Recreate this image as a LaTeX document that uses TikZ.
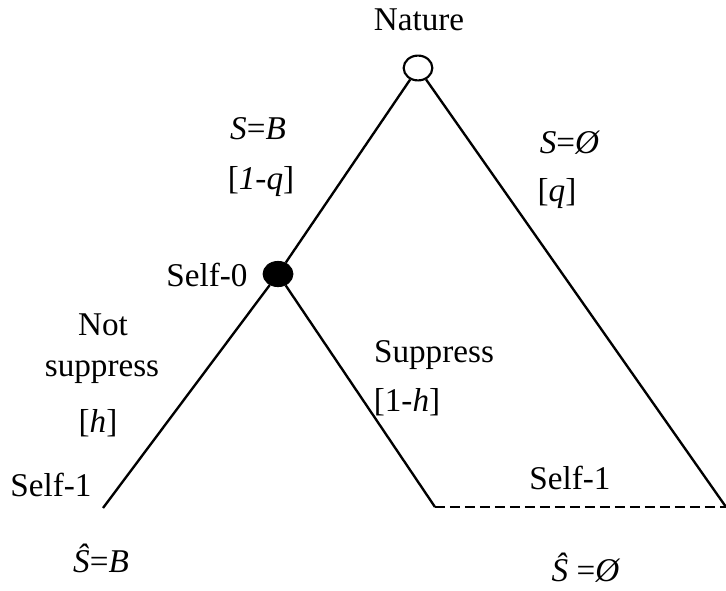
\documentclass[tikz,border=0pt]{standalone}
\usepackage{fontspec}
\setmainfont{Liberation Serif}
\usetikzlibrary{positioning,shapes.geometric}

\begin{document}
\begin{tikzpicture}[x=0.467pt,y=-0.467pt,
    branch/.style={line width=1.1pt},
    lbl/.style={font=\fontsize{15.5}{18}\selectfont,inner sep=1pt},
    chance/.style={ellipse,draw,line width=1pt,fill=white,minimum width=13.4pt,minimum height=11.6pt,inner sep=0pt},
    player/.style={ellipse,draw,fill=black,minimum width=14pt,minimum height=11.8pt,inner sep=0pt}]
  \useasboundingbox (0,0) rectangle (726,590);
  % decision nodes
  \node[chance] (nature) at (418,68) {};
  \node[player] (self0) at (278,274) {};
  \coordinate (leafL) at (103,508);
  \coordinate (leafM) at (435,507);
  \coordinate (leafR) at (726,507);
  % branches
  \draw[branch] (nature) -- (self0);
  \draw[branch] (nature) -- (leafR);
  \draw[branch] (self0) -- (leafL);
  \draw[branch] (self0) -- (leafM);
  \draw[branch,dash pattern=on 4.6pt off 2.4pt] (leafM) -- (leafR);
  % labels
  \node[lbl] (natlbl) at (419,20) {Nature};
  \node[lbl] (s0lbl) at (207,275) {Self-0};
  \node[lbl] (sb) at (258,129) {\textit{S}=\textit{B}};
  \node[lbl] (pq1) at (261,182) {[\textit{1}-\textit{q}]};
  \node[lbl] (se) at (570,143) {\textit{S}=\textit{Ø}};
  \node[lbl] (pq) at (557,194) {[\textit{q}]};
  \node[lbl] (nots1) at (103,325) {Not};
  \node[lbl] (nots2) at (102,372) {suppress};
  \node[lbl] (ph) at (98,423) {[\textit{h}]};
  \node[lbl] (supp) at (434,355) {Suppress};
  \node[lbl] (ph1) at (407,402) {[1-\textit{h}]};
  \node[lbl] (s1l) at (51,485) {Self-1};
  \node[lbl] (s1r) at (570,478) {Self-1};
  \node[lbl] (shb) at (101,558) {\textit{Ŝ}=\textit{B}};
  \node[lbl] (she) at (586,568) {\textit{Ŝ} =\textit{Ø}};
\end{tikzpicture}
\end{document}
